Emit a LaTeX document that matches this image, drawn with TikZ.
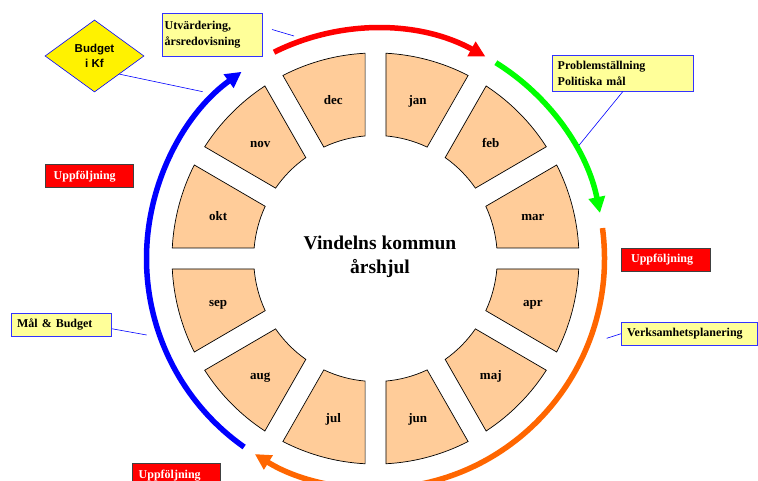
\documentclass[tikz,border=0pt]{standalone}
\usepackage{fontspec}
\setmainfont{Liberation Serif}
\newfontfamily\arialfont{Liberation Sans}
\usetikzlibrary{arrows.meta,shapes.geometric}
\definecolor{peach}{HTML}{FFCC99}
\definecolor{lyellow}{HTML}{FFFF99}
\definecolor{boxblue}{HTML}{3333FF}
\definecolor{arrorange}{HTML}{FF6600}
\definecolor{arrgreen}{HTML}{00FF00}
\definecolor{arrred}{HTML}{FF0000}
\definecolor{arrblue}{HTML}{0000FF}
\begin{document}
\begin{tikzpicture}[x=1pt,y=1pt,
  seg/.style={draw=black, fill=peach, line width=0.7pt},
  monthlbl/.style={font=\fontsize{13}{15}\selectfont\bfseries, anchor=base},
  titlelbl/.style={font=\fontsize{19.5}{24}\selectfont\bfseries, anchor=base},
  ybox/.style={draw=boxblue, fill=lyellow, line width=0.8pt, anchor=north west,
    inner ysep=0pt, font=\fontsize{12}{16}\selectfont\bfseries, align=left},
  rbox/.style={draw=black!75, fill=arrred, line width=0.8pt, anchor=north west,
    inner ysep=0pt, text=white, font=\fontsize{12}{16}\selectfont\bfseries, align=left},
  conn/.style={draw=arrblue, line width=0.6pt},
  ring/.style={line width=5.5pt, -{Triangle[length=16pt,width=16pt]}},
]
\useasboundingbox (0,0) rectangle (758,481);
\clip (0,0) rectangle (758,481);

% wheel segments
\begin{scope}[shift={(375.5,222.5)}, yscale=1.01]
\foreach \m [count=\i from 0] in {jan,feb,mar,apr,maj,jun,jul,aug,sep,okt,nov,dec} {
  \pgfmathsetmacro{\aone}{60-30*\i}
  \pgfmathsetmacro{\atwo}{90-30*\i}
  \pgfmathsetmacro{\amid}{75-30*\i}
  \draw[seg] ({\aone+2.93}:203.5pt) arc[start angle={\aone+2.93}, end angle={\atwo-2.93}, radius=203.5pt]
     -- ({\atwo-4.9}:121.8pt) arc[start angle={\atwo-4.9}, end angle={\aone+4.9}, radius=121.8pt] -- cycle;
  \node[monthlbl, yshift=-5pt] (m-\m) at (\amid:163pt) {\m};
}
\end{scope}

% title
\node[titlelbl] (t1) at (380,231.7) {Vindelns kommun};
\node[titlelbl] (t2) at (380,207) {årshjul};

% label boxes
\node[diamond, draw=arrblue, fill=yellow, line width=0.6pt, minimum width=99pt, minimum height=72pt,
  inner sep=0pt, align=center, font=\arialfont\fontsize{11.5}{15}\selectfont\bfseries] (budget) at (94.5,425) {Budget\\i Kf};
\node[ybox, minimum width=99.4pt, minimum height=42.7pt, inner xsep=2pt, text width=95.4pt] (utv) at (162.3,467.7) {Utvärdering,\\årsredovisning};
\node[ybox, minimum width=141.6pt, minimum height=35.7pt, inner xsep=5.6pt, text width=130.4pt] (prob) at (551.7,426) {Problemställning\\Politiska mål};
\node[ybox, minimum width=135.7pt, minimum height=23.3pt, inner xsep=5.7pt, text width=124.3pt] (verks) at (621,159.3) {Verksamhetsplanering};
\node[ybox, minimum width=100pt, minimum height=23.3pt, inner xsep=5.7pt, text width=88.6pt] (mal) at (11,168.3) {Mål \& Budget};
\node[rbox, minimum width=88.3pt, minimum height=23pt, inner xsep=8.3pt, text width=71.7pt] (uppL) at (45,316.7) {Uppföljning};
\node[rbox, minimum width=89pt, minimum height=23.3pt, inner xsep=9.7pt, text width=69.6pt] (uppR) at (621,233.3) {Uppföljning};
\node[rbox, minimum width=87.7pt, minimum height=23.3pt, inner xsep=6pt, text width=75.7pt] (uppB) at (132.3,17.7) {Uppföljning};

% connectors
\coordinate (budgetEnd) at (202.7,389.3);
\draw[conn] (budget.south east) -- (budgetEnd);
\coordinate (utvA) at (272,451.5);
\coordinate (utvB) at (294,445);
\draw[conn] (utvA) -- (utvB);
\coordinate (probEnd) at (576,332);
\draw[conn] (prob.south) -- (probEnd);
\coordinate (verksEnd) at (606.7,142.7);
\draw[conn] (verksEnd) -- (verks.west);
\coordinate (malEnd) at (146.7,146);
\draw[conn] ([yshift=-4pt]mal.east) -- (malEnd);

% cycle arrows
\begin{scope}[shift={(375.5,222.5)}, yscale=1.005]
\draw[ring, arrred] (116.3:229pt) arc[start angle=116.3, end angle=61.3, radius=229pt];
\draw[ring, arrgreen] (58.3:229pt) arc[start angle=58.3, end angle=11.4, radius=229pt];
\draw[ring, arrorange] (7.6:229pt) arc[start angle=7.6, end angle=-121.8, radius=229pt];
\draw[ring, arrblue] (235:229pt) arc[start angle=235, end angle=125.8, radius=229pt];
\end{scope}
\end{tikzpicture}
\end{document}
